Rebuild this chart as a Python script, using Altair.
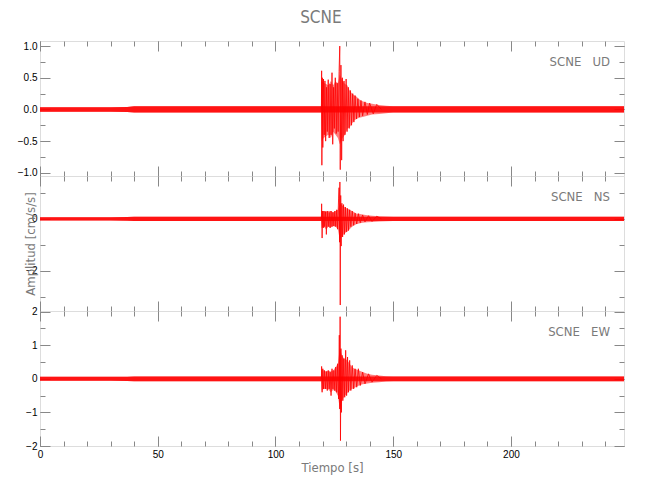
import altair as alt
import pandas as pd

# ---------------- data ----------------
XMAX = 248

band_t = [0, 10, 20, 30, 37, 40, 50, 60, 70, 80, 90, 100, 110, 119.3,
          119.6, 120.5, 121.5, 122.5, 123.5, 124.5, 125.5, 126.5, 127.3, 128.5,
          129.5, 130.5, 131.5, 132.5, 133.5, 134.5, 135.5, 137, 139, 141, 144, 147, 150,
          160, 170, 180, 190, 200, 210, 220, 230, 240, 248]

ud_up = [0.035, 0.035, 0.035, 0.035, 0.04, 0.05, 0.05, 0.05, 0.05, 0.05, 0.05, 0.05, 0.05, 0.05,
         0.45, 0.42, 0.40, 0.38, 0.45, 0.38, 0.45, 0.40, 0.55, 0.45,
         0.40, 0.38, 0.30, 0.25, 0.22, 0.20, 0.16, 0.13, 0.10, 0.09, 0.07, 0.06, 0.05,
         0.05, 0.05, 0.05, 0.05, 0.05, 0.05, 0.05, 0.05, 0.05, 0.05]
ud_lo = [-0.035, -0.035, -0.035, -0.035, -0.04, -0.05, -0.05, -0.05, -0.05, -0.05, -0.05, -0.05, -0.05, -0.05,
         -0.50, -0.45, -0.42, -0.40, -0.45, -0.35, -0.40, -0.45, -0.55, -0.45,
         -0.40, -0.30, -0.28, -0.22, -0.17, -0.15, -0.13, -0.12, -0.10, -0.08, -0.07, -0.06, -0.05,
         -0.05, -0.05, -0.05, -0.05, -0.05, -0.05, -0.05, -0.05, -0.05, -0.05]

ns_up = [0.06, 0.06, 0.06, 0.06, 0.07, 0.08, 0.08, 0.08, 0.08, 0.08, 0.08, 0.08, 0.08, 0.08,
         0.30, 0.30, 0.28, 0.30, 0.30, 0.25, 0.30, 0.35, 0.60, 0.50,
         0.45, 0.40, 0.35, 0.30, 0.25, 0.20, 0.20, 0.17, 0.14, 0.12, 0.10, 0.09, 0.08,
         0.08, 0.08, 0.08, 0.08, 0.08, 0.08, 0.08, 0.08, 0.08, 0.08]
ns_lo = [-0.06, -0.06, -0.06, -0.06, -0.07, -0.08, -0.08, -0.08, -0.08, -0.08, -0.08, -0.08, -0.08, -0.08,
         -0.35, -0.30, -0.40, -0.30, -0.33, -0.28, -0.30, -0.40, -0.80, -0.65,
         -0.55, -0.50, -0.40, -0.30, -0.25, -0.20, -0.18, -0.15, -0.13, -0.12, -0.10, -0.09, -0.08,
         -0.08, -0.08, -0.08, -0.08, -0.08, -0.08, -0.08, -0.08, -0.08, -0.08]

ew_up = [0.06, 0.06, 0.06, 0.06, 0.065, 0.07, 0.07, 0.07, 0.07, 0.07, 0.07, 0.07, 0.07, 0.07,
         0.30, 0.25, 0.22, 0.25, 0.22, 0.25, 0.35, 0.45, 0.90, 0.65,
         0.60, 0.55, 0.45, 0.35, 0.30, 0.28, 0.25, 0.20, 0.15, 0.12, 0.10, 0.08, 0.07,
         0.07, 0.07, 0.07, 0.07, 0.07, 0.07, 0.07, 0.07, 0.07, 0.07]
ew_lo = [-0.06, -0.06, -0.06, -0.06, -0.065, -0.07, -0.07, -0.07, -0.07, -0.07, -0.07, -0.07, -0.07, -0.07,
         -0.35, -0.30, -0.30, -0.32, -0.40, -0.33, -0.38, -0.50, -0.90, -0.60,
         -0.50, -0.42, -0.35, -0.30, -0.27, -0.23, -0.20, -0.16, -0.14, -0.12, -0.10, -0.08, -0.07,
         -0.07, -0.07, -0.07, -0.07, -0.07, -0.07, -0.07, -0.07, -0.07, -0.07]

# individual large swings of the event (time s, amplitude)
ud_spike_t = [119.5, 119.6, 119.7, 119.9, 120.1, 120.4, 120.7, 121.0, 121.3, 121.7, 122.0, 122.4,
              122.8, 123.2, 123.6, 124.0, 124.3, 124.7, 125.0, 125.4, 125.8, 126.2, 126.6, 127.0,
              127.3, 127.5, 127.8, 128.1, 128.4, 128.7, 129.1, 129.5, 130.0, 130.4, 130.9, 131.3,
              131.8, 132.3, 132.8, 133.3, 133.8, 134.4, 135.0, 135.6, 136.3, 137.0, 138.0, 139.0,
              140.0, 141.5, 143.0, 145.0]
ud_spike_v = [0.0, 0.61, -0.88, 0.50, -0.60, 0.48, -0.40, 0.45, -0.50, 0.35, -0.35, 0.47,
              -0.45, 0.40, -0.40, 0.58, -0.55, 0.35, -0.30, 0.50, -0.38, 0.42, -0.35, 0.60,
              1.00, -0.95, 0.70, -0.80, 0.50, -0.50, 0.45, -0.40, 0.48, -0.35, 0.35, -0.30,
              0.30, -0.25, 0.25, -0.20, 0.22, -0.15, 0.17, -0.12, 0.14, -0.10, 0.12, -0.08,
              0.10, -0.07, 0.08, 0.0]

ns_spike_t = [119.5, 119.6, 119.8, 120.0, 120.3, 120.6, 120.9, 121.3, 121.6, 122.0, 122.4, 122.8,
              123.2, 123.6, 124.0, 124.4, 124.8, 125.2, 125.6, 126.0, 126.4, 126.8, 127.0, 127.2,
              127.35, 127.5, 127.7, 127.9, 128.2, 128.5, 128.9, 129.3, 129.7, 130.1, 130.6, 131.0,
              131.5, 132.0, 132.6, 133.2, 133.8, 134.5, 135.2, 136.0, 137.0, 138.0, 139.5, 141.0,
              143.0, 145.0]
ns_spike_v = [0.0, 0.58, -0.74, 0.30, -0.35, 0.30, -0.30, 0.28, -0.60, 0.30, -0.30, 0.25,
              -0.35, 0.30, -0.30, 0.25, -0.28, 0.30, -0.30, 0.35, -0.40, 0.80, 1.20, -0.90,
              1.42, -3.32, 0.90, -1.05, 0.60, -0.70, 0.55, -0.60, 0.45, -0.50, 0.40, -0.45,
              0.35, -0.30, 0.30, -0.25, 0.22, -0.20, 0.20, -0.15, 0.15, -0.12, 0.12, -0.10,
              0.10, 0.0]

ew_spike_t = [119.5, 119.6, 119.8, 120.1, 120.4, 120.8, 121.2, 121.6, 122.0, 122.4, 122.8, 123.2,
              123.6, 124.0, 124.4, 124.8, 125.2, 125.6, 126.0, 126.4, 126.8, 127.1, 127.3, 127.45,
              127.6, 127.8, 128.0, 128.3, 128.6, 129.0, 129.4, 129.8, 130.2, 130.6, 131.0, 131.5,
              132.0, 132.6, 133.2, 133.8, 134.5, 135.2, 136.0, 137.0, 138.0, 139.5, 141.0, 143.0,
              145.0]
ew_spike_v = [0.0, 0.37, -0.40, 0.30, -0.30, 0.25, -0.30, 0.22, -0.35, 0.25, -0.30, 0.20,
              -0.50, 0.30, -0.30, 0.25, -0.35, 0.35, -0.40, 0.45, -0.60, 1.30, -0.90, 1.85,
              -1.84, 0.90, -1.00, 0.70, -0.65, 0.60, -0.55, 0.85, -0.50, 0.65, -0.40, 0.55,
              -0.35, 0.40, -0.30, 0.30, -0.25, 0.30, -0.20, 0.20, -0.15, 0.15, -0.10, 0.10,
              0.0]

x_major = [0, 50, 100, 150, 200]
x_minor = list(range(0, 250, 10))

# ---------------- styling ----------------
RED = "#ff0000"
GRAY = "#8a8a8a"
TXT = "#7a7a7a"
FONT = "Liberation Sans Narrow, DejaVu Sans Condensed, Roboto, sans-serif"
W = 584
H = 135

xscale = alt.Scale(domain=[0, XMAX], nice=False, zero=False)
title_style = dict(titleColor=TXT, titleFont=FONT, titleFontSize=13, titleFontWeight="normal")


def panel(label, up, lo, st, sv, ydom, ymaj, ymin, fmt, xlabels=False, ytitle=False, xtitle=False):
    yscale = alt.Scale(domain=ydom, nice=False, zero=False)
    band = pd.DataFrame({"t": band_t, "up": up, "lo": lo})
    spikes = pd.DataFrame({"t": st, "v": sv})

    ax_left = dict(orient="left", values=ymaj, tickSize=10, offset=-10, domain=False,
                   grid=False, labelPadding=3, format=fmt, labelFlush=False, title=None)
    if ytitle:
        ax_left.update(title="Amplitud [cm/s/s]", titleX=-20, titleY=H / 2, titleAngle=270,
                       titleAlign="center", titleBaseline="middle", **title_style)
    ax_bottom = dict(orient="bottom", values=x_major, tickSize=10, offset=-10, domain=False,
                     grid=False, labels=xlabels, labelPadding=3, labelFlush=False, title=None)
    if xtitle:
        ax_bottom.update(title="Tiempo [s]", titleY=31, titleBaseline="middle",
                         titleAlign="center", titleX=W / 2, **title_style)

    # event envelope: dense but lighter mesh of oscillations
    l0 = alt.Chart(band).mark_area(color=RED, opacity=0.5, interpolate="linear").encode(
        x=alt.X("t:Q", scale=xscale,
                axis=alt.Axis(orient="bottom", values=x_minor, tickSize=5, offset=-5,
                              domain=False, grid=False, labels=False, title=None)),
        y=alt.Y("up:Q", scale=yscale,
                axis=alt.Axis(orient="left", values=ymin, tickSize=5, offset=-5,
                              domain=False, grid=False, labels=False, title=None)),
        y2="lo:Q",
    )
    # background noise band (dense)
    l1 = alt.Chart(band).transform_filter("datum.t <= 119.3 || datum.t >= 150").mark_area(
        color=RED, opacity=0.85, interpolate="linear").encode(
        x=alt.X("t:Q", scale=xscale, axis=alt.Axis(**ax_bottom)),
        y=alt.Y("up:Q", scale=yscale, axis=alt.Axis(**ax_left)),
        y2="lo:Q",
    )
    l2 = alt.Chart(spikes).mark_line(color=RED, strokeWidth=0.8).encode(
        x=alt.X("t:Q", scale=xscale,
                axis=alt.Axis(orient="top", values=x_major, tickSize=10, offset=-10,
                              domain=False, grid=False, labels=False, title=None)),
        y=alt.Y("v:Q", scale=yscale,
                axis=alt.Axis(orient="right", values=ymaj, tickSize=10, offset=-10,
                              domain=False, grid=False, labels=False, title=None)),
    )
    l3 = alt.Chart(spikes).mark_line(strokeOpacity=0).encode(
        x=alt.X("t:Q", scale=xscale,
                axis=alt.Axis(orient="top", values=x_minor, tickSize=5, offset=-5,
                              domain=False, grid=False, labels=False, title=None)),
        y=alt.Y("v:Q", scale=yscale,
                axis=alt.Axis(orient="right", values=ymin, tickSize=5, offset=-5,
                              domain=False, grid=False, labels=False, title=None)),
    )
    txt = alt.Chart(pd.DataFrame({"s": [label]})).mark_text(
        align="right", baseline="middle", font=FONT, fontSize=13, color=TXT
    ).encode(text="s:N", x=alt.value(W - 14), y=alt.value(21))

    return alt.layer(l0, l1, l2, l3, txt).resolve_axis(x="independent", y="independent").properties(
        width=W, height=H)


p1 = panel("SCNE\u00a0\u00a0\u00a0UD", ud_up, ud_lo, ud_spike_t, ud_spike_v,
           [-1.05, 1.08], [-1.0, -0.5, 0.0, 0.5, 1.0],
           [-1.0, -0.75, -0.5, -0.25, 0.0, 0.25, 0.5, 0.75, 1.0], ".1f")
p2 = panel("SCNE\u00a0\u00a0\u00a0NS", ns_up, ns_lo, ns_spike_t, ns_spike_v,
           [-3.55, 1.65], [-2, 0], [-3, -2, -1, 0, 1], "d", ytitle=True)
p3 = panel("SCNE\u00a0\u00a0\u00a0EW", ew_up, ew_lo, ew_spike_t, ew_spike_v,
           [-2.0, 2.02], [-2, -1, 0, 1, 2], [-2, -1.5, -1, -0.5, 0, 0.5, 1, 1.5, 2], "d",
           xlabels=True, xtitle=True)

chart = alt.vconcat(p1, p2, p3, spacing=0, bounds="flush").properties(
    title=alt.Title("SCNE", fontSize=17, font=FONT, color=TXT, fontWeight="normal",
                    anchor="middle", offset=13),
    padding={"left": 8, "top": 1, "right": 5, "bottom": 5},
).configure_view(stroke=GRAY, strokeWidth=1).configure_axis(
    tickColor=GRAY, tickWidth=1, labelColor=TXT, labelFont=FONT, labelFontSize=13,
).configure(background="white")

chart.save("out.html", embed_options={"renderer": "svg", "actions": False})
